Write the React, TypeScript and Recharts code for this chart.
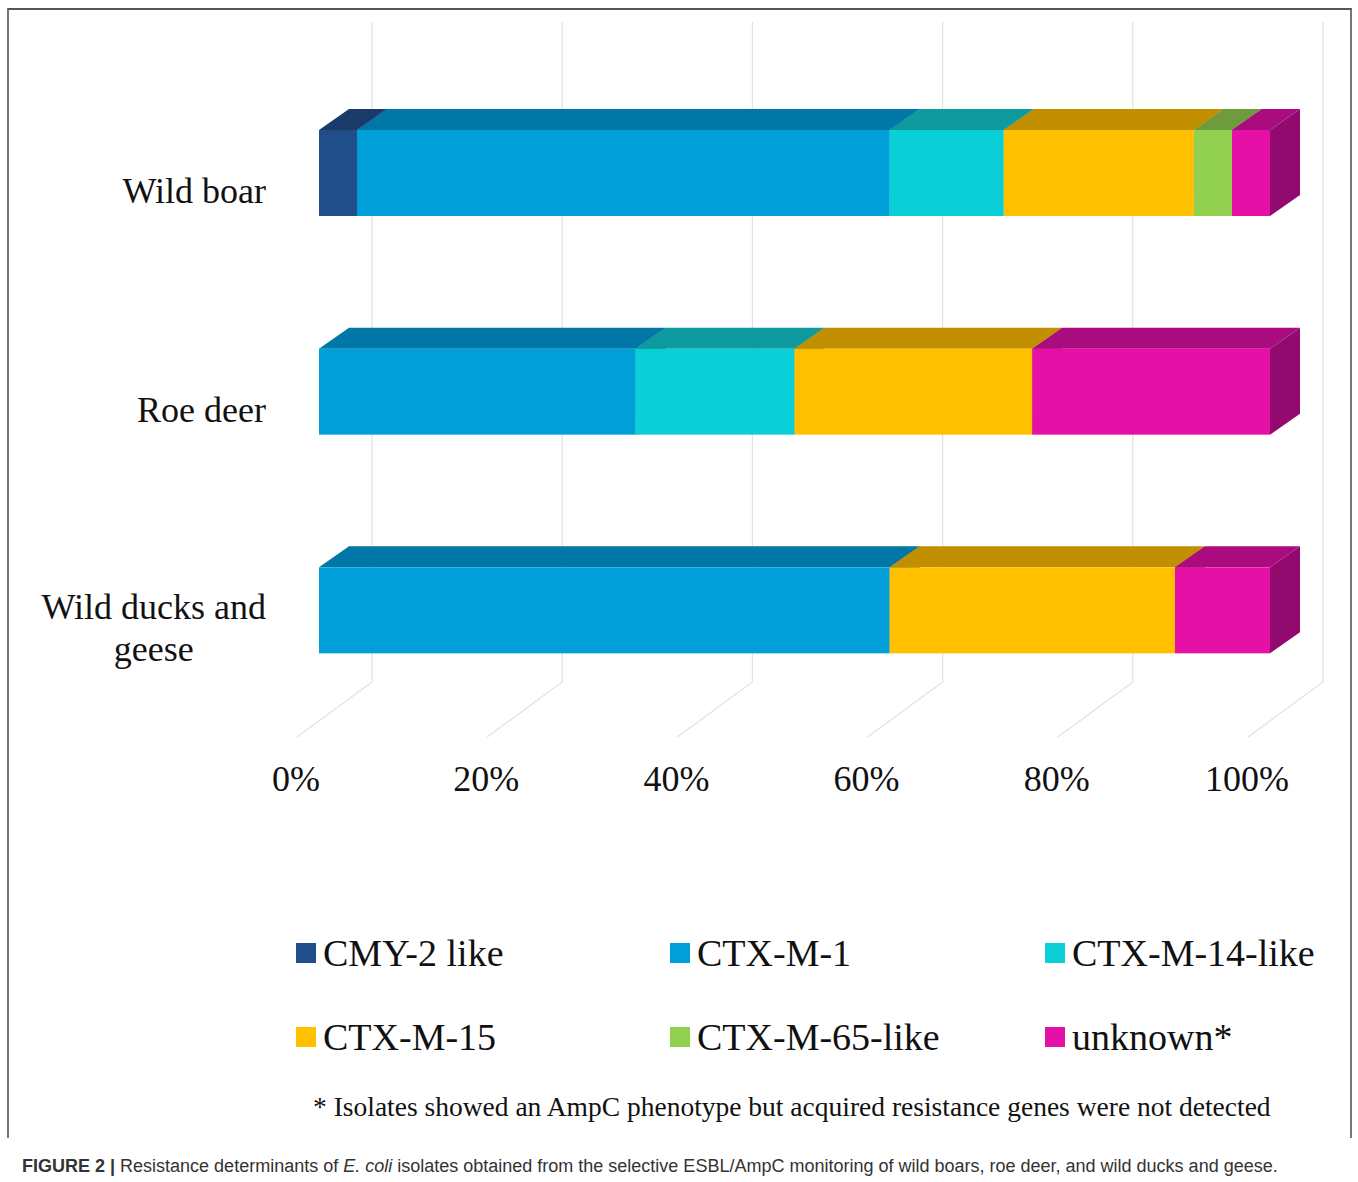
import { BarChart, Bar, XAxis, YAxis, CartesianGrid } from "recharts";

const categories = ["Wild boar", "Roe deer", "Wild ducks and geese"];
const cmy2Like = [4, 0, 0];
const ctxM1 = [56, 33.3, 60];
const ctxM14Like = [12, 16.7, 0];
const ctxM15 = [20, 25, 30];
const ctxM65Like = [4, 0, 0];
const unknown = [4, 25, 10];
const xTicks = [0, 20, 40, 60, 80, 100];

const seriesNames = ["CMY-2 like", "CTX-M-1", "CTX-M-14-like", "CTX-M-15", "CTX-M-65-like", "unknown*"];
const seriesKeys = ["cmy2", "ctxm1", "ctxm14", "ctxm15", "ctxm65", "unknown"];
const frontColors = ["#1F4E8A", "#009FDA", "#0BCFD6", "#FFC000", "#92D050", "#E511A6"];
const topColors = ["#1A3A68", "#0077A6", "#0E9A9E", "#C28F00", "#6E9C3C", "#AA0C80"];
const sideColors = ["#152F55", "#005F85", "#0B7D80", "#9E7400", "#5A8030", "#930A6E"];

const data = categories.map((name, i) => ({
  name,
  cmy2: cmy2Like[i],
  ctxm1: ctxM1[i],
  ctxm14: ctxM14Like[i],
  ctxm15: ctxM15[i],
  ctxm65: ctxM65Like[i],
  unknown: unknown[i],
}));

const DX = 30;
const DY = 21;
const serif = '"Liberation Serif", "Times New Roman", serif';

const Box3D = (props: any) => {
  const { x, y, width, height, fill, topFill, sideFill } = props;
  if (!width || width <= 0.5) return null;
  return (
    <g>
      <polygon
        points={`${x + width},${y} ${x + width + DX},${y - DY} ${x + width + DX},${y + height - DY} ${x + width},${y + height}`}
        fill={sideFill}
      />
      <polygon
        points={`${x},${y} ${x + DX},${y - DY} ${x + width + DX},${y - DY} ${x + width},${y}`}
        fill={topFill}
      />
      <rect x={x} y={y} width={width} height={height} fill={fill} />
    </g>
  );
};

let canvasCtx: CanvasRenderingContext2D | null = null;
const measure = (text: string) => {
  if (!canvasCtx) canvasCtx = document.createElement("canvas").getContext("2d");
  if (!canvasCtx) return text.length * 16;
  canvasCtx.font = `36px ${serif}`;
  return canvasCtx.measureText(text).width;
};

const CategoryTick = (props: any) => {
  const { x, y, payload } = props;
  const lines = payload.value === "Wild ducks and geese" ? ["Wild ducks and", "geese"] : [payload.value];
  const right = x - 45;
  const widest = Math.max(...lines.map(measure));
  const lineH = 42;
  const startY = y + 17 - ((lines.length - 1) * lineH) / 2;
  return (
    <g>
      {lines.map((l, i) => (
        <text
          key={i}
          x={lines.length > 1 ? right - widest / 2 : right}
          y={startY + i * lineH}
          dy="0.35em"
          textAnchor={lines.length > 1 ? "middle" : "end"}
          fontFamily={serif}
          fontSize={36}
          fill="#111"
        >
          {l}
        </text>
      ))}
    </g>
  );
};

const PercentTick = (props: any) => {
  const { x, y, payload } = props;
  return (
    <text x={x - 23} y={y + 50} dy="0.35em" textAnchor="middle" fontFamily={serif} fontSize={36} fill="#111">
      {`${payload.value}%`}
    </text>
  );
};

const GridLine = (props: any) => {
  const { x1, y1, y2 } = props;
  return (
    <path
      d={`M${x1 + 53},${y1 - 42} V${y2 - 38} L${x1 - 22},${y2 + 17}`}
      stroke="#E2E2E2"
      strokeWidth={1.2}
      fill="none"
    />
  );
};

const App = () => {
  return (
    <div style={{ position: "relative", width: 1358, height: 1182, background: "#fff" }}>
      <style>{`body{margin:0}`}</style>
      <div
        style={{
          position: "absolute",
          left: 7,
          top: 8,
          width: 1341,
          height: 1128,
          borderLeft: "2px solid #777",
          borderTop: "2px solid #555",
          borderRight: "2px solid #777",
        }}
      />
      <div style={{ position: "absolute", left: 0, top: 0 }}>
        <BarChart
          width={1358}
          height={800}
          data={data}
          layout="vertical"
          margin={{ top: 64, right: 88, bottom: 0, left: 0 }}
          barSize={86}
        >
          <CartesianGrid horizontal={false} vertical={GridLine} />
          <XAxis
            type="number"
            domain={[0, 100]}
            ticks={xTicks}
            height={80}
            axisLine={false}
            tickLine={false}
            tick={PercentTick}
            interval={0}
          />
          <YAxis
            type="category"
            dataKey="name"
            width={319}
            axisLine={false}
            tickLine={false}
            tick={CategoryTick}
            interval={0}
          />
          {seriesKeys.map((k, i) => (
            <Bar
              key={k}
              dataKey={k}
              name={seriesNames[i]}
              stackId="a"
              fill={frontColors[i]}
              isAnimationActive={false}
              shape={(p: any) => <Box3D {...p} topFill={topColors[i]} sideFill={sideColors[i]} />}
            />
          ))}
        </BarChart>
      </div>
      {seriesNames.map((n, i) => {
        const col = i % 3;
        const row = Math.floor(i / 3);
        const left = [296, 670, 1045][col];
        const top = 943 + row * 84;
        return (
          <div key={n} style={{ position: "absolute", left, top, display: "flex", alignItems: "center", height: 20 }}>
            <div style={{ width: 20, height: 20, background: frontColors[i] }} />
            <span style={{ marginLeft: 7, fontFamily: serif, fontSize: 38, color: "#111", whiteSpace: "nowrap", lineHeight: "20px" }}>
              {n}
            </span>
          </div>
        );
      })}
      <div
        style={{
          position: "absolute",
          left: 313,
          top: 1091,
          fontFamily: serif,
          fontSize: 27.5,
          color: "#111",
          whiteSpace: "nowrap",
          lineHeight: "32px",
        }}
      >
        * Isolates showed an AmpC phenotype but acquired resistance genes were not detected
      </div>
      <div
        style={{
          position: "absolute",
          left: 22,
          top: 1155,
          fontFamily: '"Liberation Sans", Arial, sans-serif',
          fontSize: 18,
          color: "#333",
          whiteSpace: "nowrap",
          lineHeight: "22px",
        }}
      >
        <b>FIGURE 2 |</b> Resistance determinants of <i>E. coli</i> isolates obtained from the selective ESBL/AmpC
        monitoring of wild boars, roe deer, and wild ducks and geese.
      </div>
    </div>
  );
};

export default App;
